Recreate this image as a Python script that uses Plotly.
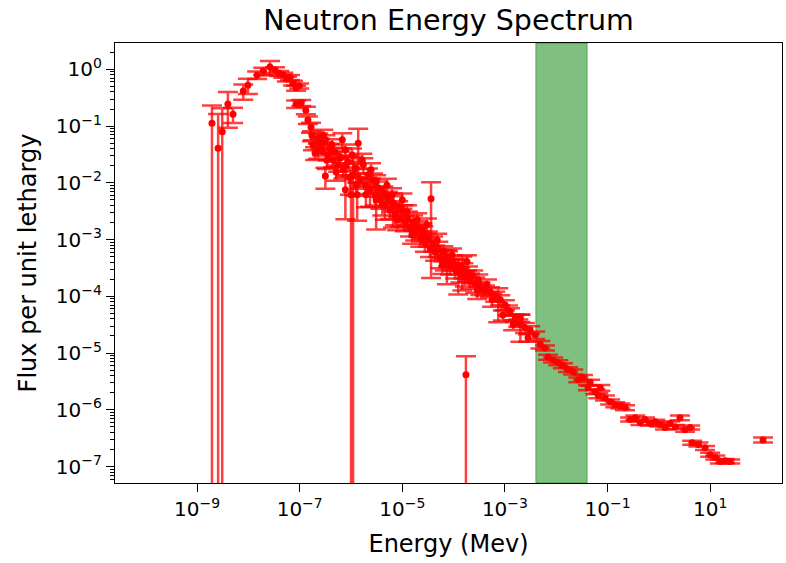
import plotly.graph_objects as go

# ---- data (log10 of energy in MeV, log10 of flux, relative 1-sigma error) ----
log10_energy = [
    -8.71, -8.59, -8.51, -8.40, -8.30, -8.10, -8.01, -7.83, -7.71, -7.58,
    -7.48, -7.40, -7.32, -7.25, -7.19, -7.13, -7.07, -7.07, -7.01, -6.97,
    -6.88, -6.84, -6.78, -6.76, -6.74, -6.70, -6.64, -6.60, -6.56, -6.50,
    -6.50, -6.45, -6.41, -6.35, -6.31, -6.25, -6.21, -6.15, -6.11, -6.11,
    -6.06, -6.02, -6.00, -5.96, -5.92, -5.88, -5.86, -5.82, -5.76, -5.72,
    -5.67, -5.63, -5.57, -5.53, -5.51, -5.47, -5.43, -5.37, -5.34, -5.28,
    -5.24, -5.18, -5.18, -5.14, -5.08, -5.04, -4.98, -4.95, -4.89, -4.85,
    -4.79, -4.75, -4.69, -4.65, -4.59, -4.56, -4.50, -4.46, -4.44, -4.40,
    -4.36, -4.30, -4.26, -4.20, -4.17, -4.13, -4.11, -4.07, -4.01, -3.97,
    -3.91, -3.91, -3.87, -3.83, -3.81, -3.78, -3.76, -3.72, -3.68, -3.62,
    -3.58, -3.52, -3.48, -3.39, -3.29, -3.19, -3.13, -3.09, -3.04, -3.00,
    -2.90, -2.80, -2.74, -2.70, -2.70, -2.61, -2.55, -2.51, -2.41, -2.31,
    -2.22, -2.16, -2.06, -1.96, -1.87, -1.77, -1.67, -1.57, -1.48, -1.38,
    -1.34, -1.24, -1.18, -1.14, -1.05, -0.95, -0.85, -0.75, -0.66, -0.56,
    -0.46, -0.36, -0.27, -0.17, -0.07, 0.02, 0.12, 0.22, 0.32, 0.41,
    0.51, 0.61, 0.65, 0.77, 0.90, 1.00, 1.10, 1.19, 1.29, 1.39,
    2.03,
    -6.64, -6.54, -6.47, -6.37, -6.29, -6.17, -6.10, -5.98, -5.90, -5.78,
    -5.71, -5.61, -5.51, -5.39, -5.30, -5.20, -5.10, -5.00, -4.91, -4.81,
    -4.71, -4.61, -4.52, -4.32, -4.22, -4.03, -3.74, -3.54, -3.35, -3.25,
    -2.94, -2.84,
]
log10_flux = [
    -0.95, -1.39, -1.10, -0.61, -0.79, -0.38, -0.28, -0.10, -0.03, 0.04,
    -0.01, -0.07, -0.10, -0.17, -0.14, -0.24, -0.33, -0.61, -0.29, -0.59,
    -0.72, -0.89, -1.02, -1.17, -1.33, -1.47, -1.21, -1.30, -1.42, -1.24,
    -1.88, -1.51, -1.39, -1.60, -1.46, -1.68, -1.56, -1.77, -1.42, -2.12,
    -1.63, -1.91, -2.21, -1.86, -1.74, -2.21, -1.30, -1.95, -1.68, -2.04,
    -1.86, -2.12, -1.95, -2.21, -2.30, -2.09, -2.30, -2.18, -2.39, -2.27,
    -2.48, -2.35, -2.39, -2.56, -2.44, -2.62, -2.51, -2.70, -2.62, -2.79,
    -2.69, -2.86, -2.79, -2.97, -2.88, -3.06, -2.97, -3.15, -2.28, -3.06,
    -3.22, -3.15, -3.32, -3.23, -3.39, -3.39, -3.32, -3.46, -3.39, -3.53,
    -3.46, -3.57, -3.60, -3.50, -3.53, -3.67, -5.38, -3.59, -3.71, -3.64,
    -3.78, -3.71, -3.85, -3.89, -3.92, -4.00, -4.06, -4.06, -4.33, -4.15,
    -4.27, -4.38, -4.47, -4.38, -4.50, -4.55, -4.73, -4.59, -4.68, -4.85,
    -4.91, -5.07, -5.12, -5.17, -5.22, -5.29, -5.33, -5.47, -5.43, -5.61,
    -5.52, -5.68, -5.75, -5.61, -5.79, -5.86, -5.91, -5.93, -5.96, -6.17,
    -6.14, -6.23, -6.17, -6.24, -6.21, -6.26, -6.31, -6.24, -6.30, -6.14,
    -6.35, -6.31, -6.58, -6.61, -6.67, -6.79, -6.84, -6.91, -6.90, -6.91,
    -6.53,
    -1.42, -1.16, -1.60, -1.33, -1.81, -1.24, -1.68, -1.51, -2.04, -1.60,
    -2.21, -1.77, -1.98, -2.39, -2.04, -2.21, -2.65, -2.30, -2.51, -2.92,
    -2.65, -2.83, -2.74, -3.01, -3.45, -3.27, -3.39, -3.89, -3.80, -4.06,
    -4.24, -4.50,
]
relative_error = [
    1.05, 3.00, 1.60, 0.62, 0.30, 0.30, 0.30, 0.15, 0.15, 0.28,
    0.12, 0.10, 0.10, 0.10, 0.10, 0.10, 0.10, 0.15, 0.10, 0.12,
    0.15, 0.15, 0.20, 0.20, 0.20, 0.25, 0.20, 0.20, 0.20, 0.20,
    0.40, 0.20, 0.20, 0.25, 0.20, 0.25, 0.30, 0.30, 0.25, 0.70,
    0.30, 0.50, 1.20, 1.10, 0.30, 0.65, 0.80, 0.30, 0.30, 0.30,
    0.30, 0.50, 0.30, 0.35, 0.70, 0.30, 0.30, 0.30, 0.45, 0.30,
    0.30, 0.30, 0.60, 0.35, 0.30, 0.30, 0.30, 0.30, 0.30, 0.30,
    0.30, 0.30, 0.30, 0.30, 0.30, 0.30, 0.30, 0.30, 0.96, 0.30,
    0.30, 0.30, 0.35, 0.30, 0.30, 0.60, 0.30, 0.30, 0.30, 0.30,
    0.30, 0.60, 0.30, 0.60, 0.30, 0.30, 1.10, 0.30, 0.30, 0.25,
    0.30, 0.25, 0.25, 0.20, 0.20, 0.20, 0.60, 0.20, 0.20, 0.20,
    0.15, 0.15, 0.15, 0.15, 0.50, 0.20, 0.15, 0.15, 0.15, 0.15,
    0.10, 0.10, 0.10, 0.10, 0.10, 0.10, 0.10, 0.10, 0.10, 0.10,
    0.12, 0.10, 0.10, 0.12, 0.10, 0.10, 0.10, 0.10, 0.10, 0.08,
    0.10, 0.08, 0.08, 0.08, 0.08, 0.08, 0.08, 0.08, 0.08, 0.10,
    0.08, 0.08, 0.08, 0.08, 0.08, 0.08, 0.08, 0.08, 0.08, 0.08,
    0.10,
    0.30, 0.25, 0.30, 0.25, 0.30, 0.30, 0.35, 0.30, 0.35, 0.30,
    0.40, 0.30, 0.30, 0.35, 0.30, 0.30, 0.35, 0.30, 0.30, 0.30,
    0.30, 0.30, 0.30, 0.30, 0.30, 0.30, 0.30, 0.30, 0.25, 0.25,
    0.20, 0.20,
]

# highlighted energy window (MeV)
band_low_mev = 4e-3
band_high_mev = 4e-2

x_tick_values = [1e-9, 1e-7, 1e-5, 1e-3, 1e-1, 1e1]
x_tick_labels = ["10<sup>−9</sup>", "10<sup>−7</sup>", "10<sup>−5</sup>",
                 "10<sup>−3</sup>", "10<sup>−1</sup>", "10<sup>1</sup>"]
y_tick_values = [1e0, 1e-1, 1e-2, 1e-3, 1e-4, 1e-5, 1e-6, 1e-7]
y_tick_labels = ["10<sup>0</sup>", "10<sup>−1</sup>", "10<sup>−2</sup>", "10<sup>−3</sup>",
                 "10<sup>−4</sup>", "10<sup>−5</sup>", "10<sup>−6</sup>", "10<sup>−7</sup>"]

# ---- derived ----
energy = [10 ** v for v in log10_energy]
flux = [10 ** v for v in log10_flux]
flux_err = [f * r for f, r in zip(flux, relative_error)]

minor_y = [m * 10 ** e for e in range(-8, 1) for m in range(2, 10)]

FONT = "DejaVu Sans"
AXIS_COLOR = "#000000"

fig = go.Figure()
fig.add_trace(go.Scatter(
    x=energy, y=flux, mode="markers",
    marker=dict(color="red", size=7, line=dict(width=0)),
    error_y=dict(type="data", array=flux_err, symmetric=True,
                 color="rgba(255,0,0,0.75)", thickness=2.5, width=10),
    showlegend=False,
))

fig.add_shape(type="rect", xref="x", yref="paper",
              x0=band_low_mev, x1=band_high_mev, y0=0, y1=1,
              fillcolor="rgba(0,128,0,0.5)", line=dict(color="rgba(0,128,0,0.5)", width=1),
              layer="below")

axis_common = dict(
    type="log", showgrid=False, zeroline=False,
    showline=True, linecolor=AXIS_COLOR, linewidth=1.3, mirror=True,
    ticks="outside", ticklen=8, tickwidth=1.3, tickcolor=AXIS_COLOR,
    tickfont=dict(family=FONT, size=20, color="#000000"),
)

fig.update_xaxes(**axis_common, range=[-10.6, 2.4],
                 tickmode="array", tickvals=x_tick_values, ticktext=x_tick_labels,
                 title=dict(text="Energy (Mev)", font=dict(family=FONT, size=24, color="#000000"),
                            standoff=15))
fig.update_yaxes(**axis_common, range=[-7.29, 0.465],
                 tickmode="array", tickvals=y_tick_values, ticktext=y_tick_labels,
                 minor=dict(tickvals=minor_y, ticks="outside", ticklen=4, tickwidth=1,
                            tickcolor=AXIS_COLOR, showgrid=False),
                 title=dict(text="Flux per unit lethargy", font=dict(family=FONT, size=24, color="#000000"),
                            standoff=12))

fig.update_layout(
    width=786, height=563,
    margin=dict(l=115, r=4, t=43, b=80),
    paper_bgcolor="white", plot_bgcolor="white",
    title=dict(text="Neutron Energy Spectrum", x=0.5706, xanchor="center",
               y=0.965, yanchor="middle", font=dict(family=FONT, size=28.5, color="#000000")),
    font=dict(family=FONT),
)

fig.write_html("out.html", config={"displayModeBar": False},
               post_script="document.body.style.margin='0';")
